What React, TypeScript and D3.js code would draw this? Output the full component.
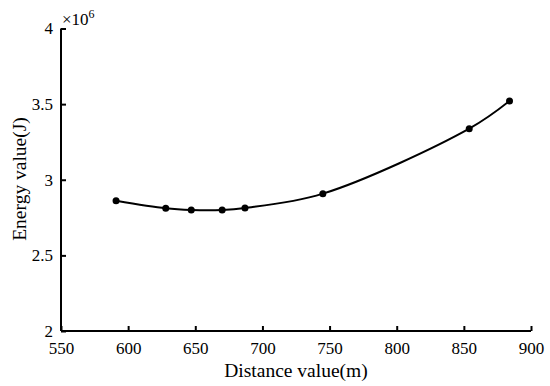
import React, { useEffect, useRef } from 'react';
import * as d3 from 'd3';

const distances = [591, 628, 647, 670, 687, 745, 854, 884];
const energies = [2.861, 2.811, 2.8, 2.8, 2.813, 2.908, 3.338, 3.521];
const xTicks = [550, 600, 650, 700, 750, 800, 850, 900];
const yTicks = [2, 2.5, 3, 3.5, 4];

const App: React.FC = () => {
  const svgRef = useRef<SVGSVGElement>(null);

  useEffect(() => {
    if (!svgRef.current) return;
    const svg = d3.select(svgRef.current);
    svg.selectAll('*').remove();

    const font = '"Liberation Serif", "Times New Roman", serif';
    const x = d3.scaleLinear().domain([550, 900]).range([61, 531]);
    const y = d3.scaleLinear().domain([2, 4]).range([331, 28.5]);

    const g = svg.append('g');

    // axes, ticks pointing inward
    const xAxis = g.append('g').attr('transform', `translate(0, ${y(2)})`)
      .call(d3.axisBottom(x).tickValues(xTicks).tickSize(-5).tickPadding(11).tickFormat(d3.format('d')));
    const yAxis = g.append('g').attr('transform', `translate(${x(550)}, 0)`)
      .call(d3.axisLeft(y).tickValues(yTicks).tickSize(-5).tickPadding(8).tickFormat((d) => String(d)));

    [xAxis, yAxis].forEach(a => {
      a.attr('font-family', font).attr('font-size', 17);
      a.select('.domain').attr('stroke', '#000').attr('stroke-width', 2);
      a.selectAll('.tick line').attr('stroke', '#000').attr('stroke-width', 2);
      a.selectAll('.tick text')
        .attr('fill', '#000')
        .style('font-family', font)
        .style('font-size', '17px');
    });
    xAxis.select('.domain').attr('d', `M${x(550)},0H${x(900)}`);
    yAxis.select('.domain').attr('d', `M0,${y(2)}V${y(4)}`);

    // exponent label
    const exp = g.append('text')
      .attr('x', 62)
      .attr('y', 25)
      .style('font-family', font)
      .style('font-size', '17px')
      .attr('fill', '#000');
    exp.append('tspan').text('×10');
    exp.append('tspan').style('font-size', '12px').attr('dy', -7).text('6');

    // curve
    const pts = distances.map((d, i) => [d, energies[i]] as [number, number]);
    const line = d3.line<[number, number]>()
      .x(d => x(d[0]))
      .y(d => y(d[1]))
      .curve(d3.curveCatmullRom.alpha(0.5));

    g.append('path')
      .datum(pts)
      .attr('d', line)
      .attr('fill', 'none')
      .attr('stroke', '#000')
      .attr('stroke-width', 2);

    g.selectAll('.dot')
      .data(pts)
      .enter()
      .append('circle')
      .attr('cx', d => x(d[0]))
      .attr('cy', d => y(d[1]))
      .attr('r', 3.5)
      .attr('fill', '#000');

    // axis titles
    g.append('text')
      .attr('x', 296)
      .attr('y', 377)
      .attr('text-anchor', 'middle')
      .style('font-family', font)
      .style('font-size', '19.5px')
      .attr('fill', '#000')
      .text('Distance value(m)');

    g.append('text')
      .attr('transform', `translate(26, 179) rotate(-90)`)
      .attr('text-anchor', 'middle')
      .style('font-family', font)
      .style('font-size', '19.5px')
      .attr('fill', '#000')
      .text('Energy value(J)');
  }, []);

  return (
    <svg
      ref={svgRef}
      width={550}
      height={386}
      style={{ position: 'absolute', left: 0, top: 0, background: '#fff' }}
    />
  );
};

export default App;
